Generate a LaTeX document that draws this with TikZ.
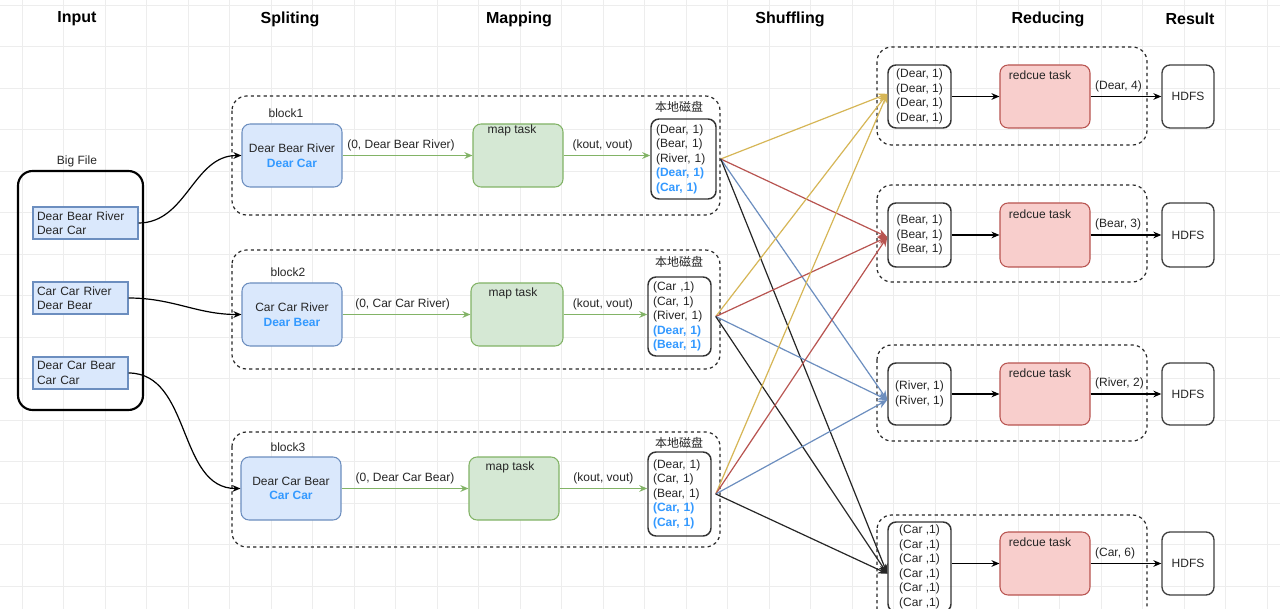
\documentclass[tikz,border=0pt]{standalone}
\usepackage{fontspec}
\setmainfont{Liberation Sans}
\newfontfamily\cjk{Noto Sans CJK SC}
\usetikzlibrary{arrows.meta}

\definecolor{bluefill}{HTML}{DAE8FC}
\definecolor{bluebd}{HTML}{6C8EBF}
\definecolor{greenfill}{HTML}{D5E8D4}
\definecolor{greenbd}{HTML}{82B366}
\definecolor{redfill}{HTML}{F8CECC}
\definecolor{redbd}{HTML}{B85450}
\definecolor{yellowbd}{HTML}{D6B656}
\definecolor{hlblue}{HTML}{3399FF}
\definecolor{gridc}{HTML}{EDEDED}

\newcommand{\hl}[1]{\textcolor{hlblue}{\bfseries #1}}

\tikzset{
  txt/.style={font=\fontsize{9}{10.9}\selectfont, text=black!85, inner sep=0pt},
  title/.style={font=\fontsize{12}{14}\selectfont\bfseries, inner sep=0pt},
  lbl/.style={txt, inner sep=3pt},
  gridline/.style={draw=gridc, line width=0.5pt},
  bigfile/.style={draw=black, line width=1.6pt, rounded corners=11pt, minimum width=93.75pt, minimum height=179.25pt},
  linebox/.style={txt, draw=bluebd, fill=bluefill, line width=0.8pt, inner xsep=3pt, minimum height=24pt, align=left},
  splitbox/.style={txt, draw=bluebd, fill=bluefill, line width=0.8pt, rounded corners=6pt, minimum width=75pt, minimum height=47.25pt, align=center},
  mapbox/.style={draw=greenbd, fill=greenfill, line width=0.8pt, rounded corners=6pt, minimum width=67.5pt, minimum height=47.25pt},
  diskbox/.style={txt, draw=black!80, line width=1.1pt, rounded corners=6pt, inner xsep=3.75pt, minimum height=60pt, align=left},
  kvbox/.style={txt, draw=black!80, line width=1.1pt, rounded corners=6pt, minimum width=47.25pt, minimum height=47.25pt, align=center},
  redbox/.style={draw=redbd, fill=redfill, line width=0.8pt, rounded corners=6pt, minimum width=67.5pt, minimum height=47.25pt},
  hdfsbox/.style={txt, draw=black!75, line width=1pt, rounded corners=6pt, minimum width=39pt, minimum height=47.25pt},
  dashbox/.style={draw=black!85, line width=0.9pt, dash pattern=on 2.4pt off 2.4pt, rounded corners=11pt},
  garrow/.style={draw=greenbd, line width=0.9pt, -{Stealth[length=6pt,width=5pt]}},
  barrow/.style={draw=black, line width=0.9pt, -{Stealth[length=6pt,width=5pt]}},
  shuf/.style={line width=0.9pt, -{Stealth[length=7pt,width=6pt]}}
}

\begin{document}
\begin{tikzpicture}[x=0.75pt,y=0.75pt,yscale=-1]
\useasboundingbox (0,0) rectangle (1280,609);
\clip (0,0) rectangle (1280,609);
\fill[white] (0,0) rectangle (1280,609);

% Grid
\foreach \gx in {22,63.5,...,1280} \draw[gridline] (\gx,0) -- (\gx,609);
\foreach \gy in {5,46.5,...,609} \draw[gridline] (0,\gy) -- (1280,\gy);

% Text Node
\node[title] (tInput) at (77,19) {Input};
\node[title] (tSplit) at (290,19) {Spliting};
\node[title] (tMap) at (519,19) {Mapping};
\node[title] (tShuf) at (790,19) {Shuffling};
\node[title] (tRed) at (1048,19) {Reducing};
\node[title] (tRes) at (1190,19) {Result};

%Big File
\node[txt] (bigl) at (77,161) {Big File};
\node[bigfile] (big) at (80.5,290.5) {};
\node[linebox, text width=72.75pt] (in1) at (85.5,223) {Dear Bear River\\Dear Car};
\node[linebox, text width=65.25pt] (in2) at (80.5,298) {Car Car River\\Dear Bear};
\node[linebox, text width=65.25pt] (in3) at (80.5,373) {Dear Car Bear\\Car Car};

%Blocks
\draw[dashbox] (232,96) rectangle (720,215);
\draw[dashbox] (232,250) rectangle (720,369);
\draw[dashbox] (232,432) rectangle (720,547);

\node[txt] (b1) at (286,113) {block1};
\node[txt] (b2) at (288,272) {block2};
\node[txt] (b3) at (288,447) {block3};

\node[splitbox] (sp1) at (292,155.5) {Dear Bear River\\\hl{Dear Car}};
\node[splitbox] (sp2) at (292,314.5) {Car Car River\\\hl{Dear Bear}};
\node[splitbox] (sp3) at (291,488.5) {Dear Car Bear\\\hl{Car Car}};

\node[mapbox] (mp1) at (518,155.5) {};
\node[mapbox, minimum width=69pt] (mp2) at (517,314.5) {};
\node[mapbox] (mp3) at (514,488.5) {};
\node[txt] (ml1) at (512,130) {map task};
\node[txt] (ml2) at (513,293) {map task};
\node[txt] (ml3) at (510,467) {map task};

\node[txt] (dl1) at (679,107) {\cjk 本地磁盘};
\node[txt] (dl2) at (679,262) {\cjk 本地磁盘};
\node[txt] (dl3) at (679,443) {\cjk 本地磁盘};
\node[diskbox, text width=41.25pt] (dk1) at (683.5,159) {(Dear, 1)\\(Bear, 1)\\(River, 1)\\\hl{(Dear, 1)}\\\hl{(Car, 1)}};
\node[diskbox, text width=39.75pt, minimum height=59.25pt] (dk2) at (679.5,316.5) {(Car ,1)\\(Car, 1)\\(River, 1)\\\hl{(Dear, 1)}\\\hl{(Bear, 1)}};
\node[diskbox, text width=39.75pt, minimum height=63pt] (dk3) at (679.5,494) {(Dear, 1)\\(Car, 1)\\(Bear, 1)\\\hl{(Car, 1)}\\\hl{(Car, 1)}};

%Input arrows
\draw[barrow] (in1.east) to[out=0,in=180] (sp1.west);
\draw[barrow] (in2.east) to[out=0,in=180] (sp2.west);
\draw[barrow] (in3.east) to[out=0,in=180] (sp3.west);

%Map arrows
\draw[garrow] (sp1) -- node[lbl, pos=0.45, above]{(0, Dear Bear River)} (mp1);
\draw[garrow] (sp2) -- node[lbl, pos=0.47, above]{(0, Car Car River)} (mp2);
\draw[garrow] (sp3) -- node[lbl, pos=0.5, above]{(0, Dear Car Bear)} (mp3);
\draw[garrow] (mp1.east) -- node[lbl, pos=0.45, above]{(kout, vout)} (mp1.east -| dk1.west);
\draw[garrow] (mp2.east) -- node[lbl, pos=0.47, above]{(kout, vout)} (mp2.east -| dk2.west);
\draw[garrow] (mp3.east) -- node[lbl, pos=0.5, above]{(kout, vout)} (mp3.east -| dk3.west);

%Reducers
\draw[dashbox] (877,47) rectangle (1147,145);
\draw[dashbox] (877,185) rectangle (1147,282);
\draw[dashbox] (877,345) rectangle (1147,441);
\draw[dashbox] (877,515) rectangle (1147,625);

\node[kvbox] (rv1) at (919.5,96.5) {(Dear, 1)\\(Dear, 1)\\(Dear, 1)\\(Dear, 1)};
\node[kvbox, minimum height=48pt] (rv2) at (919.5,235) {(Bear, 1)\\(Bear, 1)\\(Bear, 1)};
\node[kvbox, minimum height=46.5pt] (rv3) at (919.5,394) {(River, 1)\\(River, 1)};
\node[kvbox, minimum height=67.5pt] (rv4) at (919.5,567) {(Car ,1)\\(Car ,1)\\(Car ,1)\\(Car ,1)\\(Car ,1)\\(Car ,1)};

\node[redbox] (rt1) at (1045,96.5) {};
\node[redbox, minimum height=48pt] (rt2) at (1045,235) {};
\node[redbox, minimum height=46.5pt] (rt3) at (1045,394) {};
\node[redbox] (rt4) at (1045,563.5) {};
\node[txt] (rl1) at (1040,75) {redcue task};
\node[txt] (rl2) at (1040,214) {redcue task};
\node[txt] (rl3) at (1040,373) {redcue task};
\node[txt] (rl4) at (1040,542) {redcue task};

\node[hdfsbox] (hd1) at (1188,96.5) {HDFS};
\node[hdfsbox, minimum height=48pt] (hd2) at (1188,235) {HDFS};
\node[hdfsbox, minimum height=46.5pt] (hd3) at (1188,394) {HDFS};
\node[hdfsbox] (hd4) at (1188,563.5) {HDFS};

\draw[barrow] (rv1) -- (rt1);
\draw[barrow] (rv2) -- (rt2);
\draw[barrow] (rv3) -- (rt3);
\draw[barrow] (rv4.east |- rt4.west) -- (rt4);
\draw[barrow] (rt1) -- node[lbl, pos=0, anchor=south west]{(Dear, 4)} (hd1);
\draw[barrow] (rt2) -- node[lbl, pos=0, anchor=south west]{(Bear, 3)} (hd2);
\draw[barrow] (rt3) -- node[lbl, pos=0, anchor=south west]{(River, 2)} (hd3);
\draw[barrow] (rt4) -- node[lbl, pos=0, anchor=south west]{(Car, 6)} (hd4);

%Shuffle lines
\foreach \s in {1,2,3} {
  \draw[shuf, yellowbd] ([xshift=3pt]dk\s.east) -- ([yshift=-2pt]rv1.west);
  \draw[shuf, redbd] ([xshift=3pt]dk\s.east) -- ([yshift=1.5pt]rv2.west);
  \draw[shuf, bluebd] ([xshift=3pt]dk\s.east) -- ([yshift=4.5pt]rv3.west);
  \draw[shuf, black!85] ([xshift=3pt]dk\s.east) -- ([yshift=5pt]rv4.west);
}

\end{tikzpicture}
\end{document}
